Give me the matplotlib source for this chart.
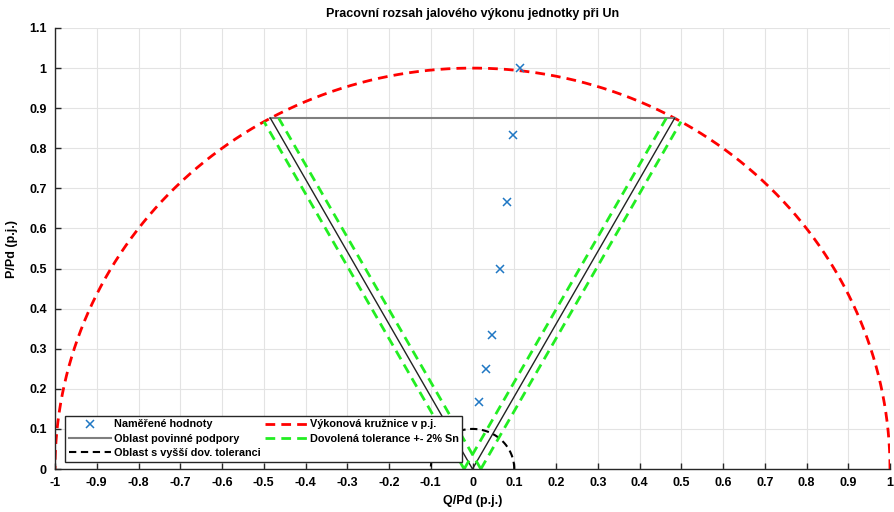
import numpy as np
import matplotlib
matplotlib.use("Agg")
import matplotlib.pyplot as plt

plt.rcParams['font.family'] = ['Liberation Sans', 'DejaVu Sans']

# ---- data ----
meas_Q = [0.114, 0.098, 0.083, 0.066, 0.047, 0.032, 0.016]
meas_P = [1.0, 0.833, 0.667, 0.5, 0.333, 0.25, 0.167]
P_limit = 0.875          # upper limit of mandatory support area
circle_radius = 1.0      # power circle in p.u.
tol_radius = 0.1         # area with higher tolerance
tolerance = 0.02         # +- 2 % Sn
x_ticks = np.round(np.arange(-1.0, 1.0001, 0.1), 1) + 0.0
y_ticks = np.round(np.arange(0.0, 1.1001, 0.1), 1) + 0.0

title = "Pracovní rozsah jalového výkonu jednotky při Un"
xlabel = "Q/Pd (p.j.)"
ylabel = "P/Pd (p.j.)"
labels = ["Naměřené hodnoty", "Oblast povinné podpory", "Oblast s vyšší dov. toleranci",
          "Výkonová kružnice v p.j.", "Dovolená tolerance +- 2% Sn"]

fig = plt.figure(figsize=(8.94, 5.12), dpi=100)
ax = fig.add_axes([55/894, 43/512, 835/894, 441/512])

Q_lim = np.sqrt(circle_radius**2 - P_limit**2)
k = Q_lim / P_limit
DASH = (3.5, 2.2)

# power circle
th = np.linspace(0, np.pi, 400)
h_red, = ax.plot(circle_radius*np.cos(th), circle_radius*np.sin(th), '--', color='#ff0000', lw=2, dashes=DASH)
# small circle
h_blk, = ax.plot(tol_radius*np.cos(th), tol_radius*np.sin(th), '--', color='black', lw=1.5, dashes=DASH)

# mandatory support area
h_gray, = ax.plot([-Q_lim, Q_lim], [P_limit, P_limit], '-', color='#7f7f7f', lw=1.5)
ax.plot([0, -Q_lim], [0, P_limit], '-', color='#222222', lw=1)
ax.plot([0, Q_lim], [0, P_limit], '-', color='#222222', lw=1)

# tolerance lines
a = k**2 + 1; b = 2*k*tolerance; c = tolerance**2 - circle_radius**2
P_out = (-b + np.sqrt(b*b - 4*a*c)) / (2*a)
Pp = np.array([0, P_out])
h_green, = ax.plot(-(k*Pp + tolerance), Pp, '--', color='#22ee22', lw=2, dashes=DASH)
ax.plot(k*Pp + tolerance, Pp, '--', color='#22ee22', lw=2, dashes=DASH)
Pi = np.array([0, P_limit])
ax.plot(-(k*Pi - tolerance), Pi, '--', color='#22ee22', lw=2, dashes=DASH)
ax.plot(k*Pi - tolerance, Pi, '--', color='#22ee22', lw=2, dashes=DASH)

# measurements
h_x, = ax.plot(meas_Q, meas_P, 'x', color='#1f77c4', ms=6, mew=1.1, linestyle='none')

ax.set_xlim(-1, 1)
ax.set_ylim(0, 1.1)
fmt = lambda v: ('%g' % v).replace('\u2212', '-')
ax.set_xticks(x_ticks)
ax.set_xticklabels([fmt(v) for v in x_ticks], fontweight='bold', fontsize=9)
ax.set_yticks(y_ticks)
ax.set_yticklabels([fmt(v) for v in y_ticks], fontweight='bold', fontsize=9)
ax.tick_params(direction='in', length=4, width=1, color='#262626', pad=6)
ax.grid(True, color='#e3e3e3', lw=0.8)
ax.set_axisbelow(True)
for s in ['top', 'right']:
    ax.spines[s].set_visible(False)
for s in ['left', 'bottom']:
    ax.spines[s].set_color('#262626')
    ax.spines[s].set_linewidth(1)

ax.set_title(title, fontweight='bold', fontsize=9, pad=8)
ax.set_xlabel(xlabel, fontweight='bold', fontsize=9, labelpad=4)
ax.set_ylabel(ylabel, fontweight='bold', fontsize=9, labelpad=8)

leg = ax.legend([h_x, h_gray, h_blk, h_red, h_green], labels, ncol=2, loc='lower left',
                bbox_to_anchor=(0.012, 0.016), prop={'weight': 'bold', 'size': 7.8},
                fancybox=False, edgecolor='#262626', framealpha=1, handlelength=3.9,
                borderaxespad=0, labelspacing=0.4, columnspacing=0.4, handletextpad=0.25,
                borderpad=0.35)
leg.get_frame().set_linewidth(1)

fig.savefig("out.png", dpi=100)
